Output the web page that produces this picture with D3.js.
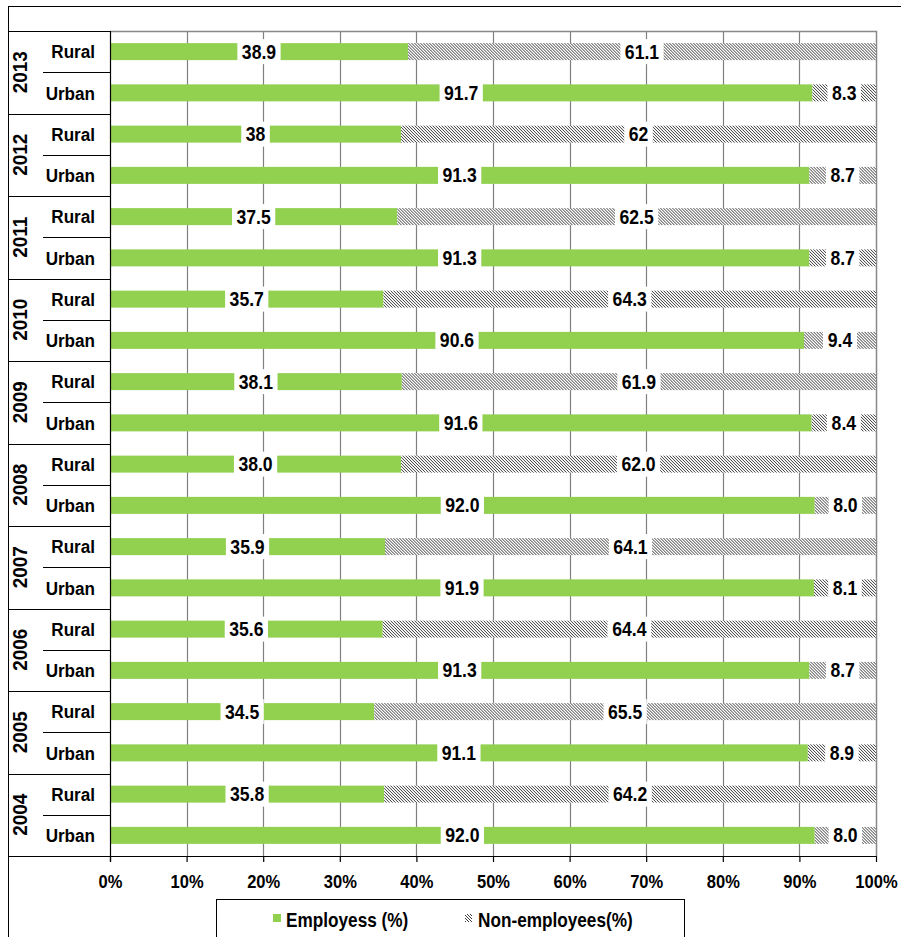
<!DOCTYPE html>
<html>
<head>
<meta charset="utf-8">
<script src="https://cdn.jsdelivr.net/npm/d3@7"></script>
<style>
body{margin:0;background:#fff}
text{font-family:Arial,"Liberation Sans",sans-serif;font-weight:bold;fill:#000}
</style>
</head>
<body>
<svg id="chart" width="901" height="937"></svg>
<script>
// ---data---
var years=["2013","2012","2011","2010","2009","2008","2007","2006","2005","2004"]
var areas=["Rural","Urban"]
var ruralEmp=["38.9","38","37.5","35.7","38.1","38.0","35.9","35.6","34.5","35.8"]
var ruralNon=["61.1","62","62.5","64.3","61.9","62.0","64.1","64.4","65.5","64.2"]
var urbanEmp=["91.7","91.3","91.3","90.6","91.6","92.0","91.9","91.3","91.1","92.0"]
var urbanNon=["8.3","8.7","8.7","9.4","8.4","8.0","8.1","8.7","8.9","8.0"]
var xTicks=[0,10,20,30,40,50,60,70,80,90,100]
var seriesNames=["Employess (%)","Non-employees(%)"]

var green="#92D050"
var plotLeft=110, plotRight=876, plotTop=31, plotBottom=856

var svg=d3.select("#chart")

// hatch pattern for non-employees
var defs=svg.append("defs")
var pat=defs.append("pattern")
 .attr("id","hatch")
 .attr("patternUnits","userSpaceOnUse")
 .attr("width",3).attr("height",3)
pat.append("rect").attr("width",3).attr("height",3).attr("fill","#fff")
pat.append("path")
 .attr("d","M0,0L3,3M-1,2L1,4M2,-1L4,1")
 .attr("stroke","#222").attr("stroke-width",0.9)

// rows
var rows=[]
years.forEach(function(y,i){
  rows.push({year:y,area:"Rural",emp:ruralEmp[i],non:ruralNon[i]})
  rows.push({year:y,area:"Urban",emp:urbanEmp[i],non:urbanNon[i]})
})

var xScale=d3.scaleLinear().domain([0,100]).range([plotLeft,plotRight])
var yScale=d3.scaleBand()
 .domain(rows.map(function(d){return d.year+"|"+d.area}))
 .range([plotTop,plotBottom])
var barH=17

// ---text squeezed sideways like the original---
function narrowText(sel,x,y,sx,size,anchor,txt){
  return sel.append("text")
   .attr("transform","translate("+x+","+y+")scale("+sx+",1)")
   .attr("text-anchor",anchor)
   .attr("font-size",size+"px")
   .text(txt)
}

// outer frame
svg.append("line").attr("x1",8).attr("x2",901).attr("y1",6.5).attr("y2",6.5).attr("stroke","#000")
svg.append("line").attr("x1",8.5).attr("x2",8.5).attr("y1",6).attr("y2",937).attr("stroke","#000")

// gridlines
svg.append("g")
 .selectAll("line")
 .data(xTicks.filter(function(t){return t>0&&t<100}))
 .enter().append("line")
 .attr("x1",function(d){return Math.round(xScale(d))+0.5})
 .attr("x2",function(d){return Math.round(xScale(d))+0.5})
 .attr("y1",plotTop).attr("y2",plotBottom)
 .attr("stroke","#808080").attr("stroke-width",1.2)

// plot border top/right
svg.append("path")
 .attr("d","M"+plotLeft+","+(plotTop+0.5)+"H"+(plotRight+0.5)+"V"+plotBottom)
 .attr("fill","none").attr("stroke","#888").attr("stroke-width",1.5)

// bars
var rowG=svg.append("g").selectAll("g")
 .data(rows).enter().append("g")
 .attr("transform",function(d){return "translate(0,"+(yScale(d.year+"|"+d.area)+yScale.bandwidth()/2)+")"})

rowG.append("rect")
 .attr("x",xScale(0))
 .attr("y",-barH/2)
 .attr("width",function(d){return xScale(+d.emp)-xScale(0)})
 .attr("height",barH)
 .attr("fill",green)

rowG.append("rect")
 .attr("x",function(d){return xScale(+d.emp)})
 .attr("y",-barH/2)
 .attr("width",function(d){return xScale(100)-xScale(+d.emp)})
 .attr("height",barH)
 .attr("fill","url(#hatch)")

// data labels with white boxes
var labSx=0.88
function addLabel(g,cx,txt){
  var bg=g.append("rect").attr("fill","#fff")
  var t=narrowText(g,cx,7,labSx,20,"middle",txt)
  var w=t.node().getBBox().width*labSx
  bg.attr("x",cx-w/2-4.5).attr("width",w+9)
   .attr("y",-12.5).attr("height",25)
}
rowG.each(function(d){
  var g=d3.select(this)
  addLabel(g,xScale(+d.emp/2),d.emp)
  addLabel(g,xScale(+d.emp+(+d.non)/2),d.non)
})

// y axis line
svg.append("line").attr("x1",plotLeft+0.5).attr("x2",plotLeft+0.5).attr("y1",plotTop).attr("y2",plotBottom+6).attr("stroke","#000").attr("stroke-width",1.2)

// category table
var tbl=svg.append("g")
years.forEach(function(y,i){
  var y0=yScale(y+"|Rural"), y1=yScale(y+"|Urban")
  tbl.append("line").attr("x1",8).attr("x2",plotLeft).attr("y1",Math.round(y0)+0.5).attr("y2",Math.round(y0)+0.5).attr("stroke","#000").attr("stroke-width",1.2)
  tbl.append("line").attr("x1",43).attr("x2",plotLeft).attr("y1",Math.round(y1)+0.5).attr("y2",Math.round(y1)+0.5).attr("stroke","#000").attr("stroke-width",1.2)
  tbl.append("text")
   .attr("transform","translate(27,"+(y1)+")rotate(-90)scale(0.95,1)")
   .attr("text-anchor","middle")
   .attr("font-size","20px")
   .text(y)
  areas.forEach(function(a){
    narrowText(tbl,95,yScale(y+"|"+a)+yScale.bandwidth()/2+6.8,0.9,19,"end",a)
  })
})

// x axis
var xAxis=svg.append("g")
 .attr("transform","translate(0,"+plotBottom+")")
 .call(d3.axisBottom(xScale).tickValues(xTicks).tickSize(6).tickSizeOuter(0).tickFormat(function(d){return d+"%"}))
xAxis.select(".domain").attr("d","M8,0.5H"+(plotRight+0.5)).attr("stroke","#000").attr("stroke-width",1.2)
xAxis.selectAll(".tick line").attr("stroke","#000").attr("stroke-width",1.2)
xAxis.selectAll(".tick text")
 .attr("y",0).attr("dy",0)
 .attr("transform","translate(0,32)scale(0.87,1)")
 .attr("font-size","19px")
 .attr("font-family","Arial,'Liberation Sans',sans-serif")
 .attr("font-weight","bold")
 .attr("fill","#000")

// legend
var leg=svg.append("g")
leg.append("rect").attr("x",216.5).attr("y",899.5).attr("width",468).attr("height",60)
 .attr("fill","#fff").attr("stroke","#000")
leg.append("rect").attr("x",273).attr("y",914).attr("width",8).attr("height",8).attr("fill",green)
narrowText(leg,286,927,0.86,20,"start",seriesNames[0])
leg.append("rect").attr("x",465).attr("y",914).attr("width",7).attr("height",8).attr("fill","url(#hatch)")
narrowText(leg,478,927,0.86,20,"start",seriesNames[1])
</script>
</body>
</html>
